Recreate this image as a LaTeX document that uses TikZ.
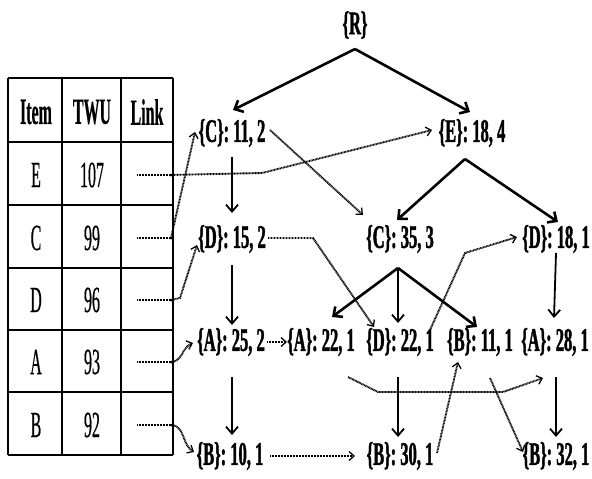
\documentclass[tikz,border=0pt]{standalone}
\usepackage{fontspec}
\setmainfont{Liberation Serif}
\newfontfamily\treefont{Liberation Serif}[FakeStretch=0.5, BoldFeatures={FakeBold=1.2}]
\newfontfamily\tablefont{Liberation Serif}[FakeStretch=0.43, FakeBold=0.4]
\usetikzlibrary{arrows.meta}
\tikzset{
  treenode/.style={inner sep=0pt, font=\treefont\fontsize{33}{33}\selectfont\bfseries},
  cell/.style={inner sep=0pt, font=\tablefont\fontsize{37}{37}\selectfont},
  headcell/.style={cell, font=\tablefont\fontsize{37}{37}\selectfont\bfseries},
  tablerule/.style={line width=2.8pt},
  bigedge/.style={line width=2.6pt, -{Straight Barb[length=7pt,width=13pt,line width=2.6pt]}},
  midedge/.style={line width=1.8pt, -{Straight Barb[length=7pt,width=12pt,line width=1.8pt]}},
  linkline/.style={line width=1.9pt, dash pattern=on 0.9pt off 0.6pt},
  linkedge/.style={linkline, -{Straight Barb[length=5pt,width=9pt,line width=1.3pt]}},
}
\begin{document}
\begin{tikzpicture}[x=1pt,y=-1pt]
\useasboundingbox (0,0) rectangle (592,479);

% header table
\foreach \yy in {78,142,205,268,330,392,455}
  \draw[tablerule] (8,\yy) -- (173,\yy);
\foreach \xx in {8,62,121,173}
  \draw[tablerule] (\xx,78) -- (\xx,455);

\node[headcell] (hItem) at (36,112) {Item};
\node[headcell] (hTWU)  at (92,112) {TWU};
\node[headcell] (hLink) at (147,112) {Link};

\foreach \name/\tw/\yy in {E/107/175, C/99/238, D/96/300, A/93/362, B/92/425}{
  \node[cell] (i\name) at (36,\yy) {\name};
  \node[cell] (t\name) at (92,\yy) {\tw};
  \coordinate (s\name) at (137,\yy);
  \coordinate (l\name) at (171,\yy);
  \draw[linkline] (s\name) -- (l\name);
  \fill (l\name) circle (1.5pt);
}

% tree nodes
\node[treenode] (R)   at (355,25)  {\{R\}};
\node[treenode] (C11) at (232,133) {\{C\}: 11, 2};
\node[treenode] (E18) at (472,133) {\{E\}: 18, 4};
\node[treenode] (D15) at (232,239) {\{D\}: 15, 2};
\node[treenode] (C35) at (400,239) {\{C\}: 35, 3};
\node[treenode] (D18) at (556,239) {\{D\}: 18, 1};
\node[treenode] (A25) at (231,342) {\{A\}: 25, 2};
\node[treenode] (A22) at (321,342) {\{A\}: 22, 1};
\node[treenode] (D22) at (400,342) {\{D\}: 22, 1};
\node[treenode] (B11) at (480,342) {\{B\}: 11, 1};
\node[treenode] (A28) at (555,342) {\{A\}: 28, 1};
\node[treenode] (B10) at (230,456) {\{B\}: 10, 1};
\node[treenode] (B30) at (400,456) {\{B\}: 30, 1};
\node[treenode] (B32) at (556,456) {\{B\}: 32, 1};

% tree edges
\draw[bigedge] ([yshift=-24pt]R.center) -- ([xshift=1pt,yshift=23pt]C11.center);
\draw[bigedge] ([yshift=-24pt]R.center) -- ([xshift=-2pt,yshift=21pt]E18.center);
\draw[midedge] ([yshift=-24pt]C11.center) -- ([yshift=26pt]D15.center);
\draw[midedge] ([yshift=-26pt]D15.center) -- ([xshift=1pt,yshift=17pt]A25.center);
\draw[midedge] ([xshift=1pt,yshift=-35pt]A25.center) -- ([xshift=2pt,yshift=21pt]B10.center);
\draw[bigedge] ([xshift=-7pt,yshift=-26pt]E18.center) -- ([xshift=-3pt,yshift=19pt]C35.center);
\draw[bigedge] ([xshift=-7pt,yshift=-26pt]E18.center) -- ([xshift=2pt,yshift=17pt]D18.center);
\draw[bigedge] ([xshift=-2pt,yshift=-29pt]C35.center) -- ([xshift=11pt,yshift=25pt]A22.center);
\draw[midedge] ([xshift=-2pt,yshift=-29pt]C35.center) -- ([xshift=-2pt,yshift=19pt]D22.center);
\draw[bigedge] ([xshift=-2pt,yshift=-29pt]C35.center) -- ([xshift=-3pt,yshift=15pt]B11.center);
\draw[midedge] ([yshift=-14pt]D18.center) -- ([xshift=-1pt,yshift=24pt]A28.center);
\draw[midedge] ([xshift=-2pt,yshift=-35pt]D22.center) -- ([xshift=-2pt,yshift=19pt]B30.center);
\draw[midedge] ([xshift=1pt,yshift=-35pt]A28.center) -- ([yshift=19pt]B32.center);

% node links
\coordinate (kE) at (262,173);
\coordinate (kD) at (180,298);
\coordinate (kD1) at (313,238);
\coordinate (kA1) at (378,392);
\coordinate (kA2) at (503,392);
\coordinate (kD2) at (465,253);

\draw[linkedge] (lE) -- (kE) -- ([xshift=-40pt,yshift=3pt]E18.center);
\draw[linkedge] (lC) -- ([xshift=-37pt,yshift=1pt]C11.center);
\draw[linkedge] (lD) -- (kD) -- ([xshift=-35pt,yshift=-6pt]D15.center);
\draw[linkedge] (lA) to[out=0,in=200] ([xshift=-38pt,yshift=-1pt]A25.center);
\draw[linkedge] (lB) to[out=0,in=150] ([xshift=-36pt,yshift=4pt]B10.center);
\draw[linkedge] ([xshift=38pt,yshift=3pt]C11.center) -- ([xshift=-37pt,yshift=24pt]C35.center);
\draw[linkedge] ([xshift=36pt,yshift=1pt]D15.center) -- (kD1) -- ([xshift=-26pt,yshift=15pt]D22.center);
\draw[linkedge] ([xshift=36pt]A25.center) -- ([xshift=-34pt]A22.center);
\draw[linkedge] ([xshift=27pt,yshift=-35pt]A22.center) -- (kA1) -- (kA2) -- ([xshift=-12pt,yshift=-36pt]A28.center);
\draw[linkedge] ([xshift=30pt,yshift=12pt]D22.center) -- (kD2) -- ([xshift=-39pt,yshift=2pt]D18.center);
\draw[linkedge] ([xshift=10pt,yshift=-36pt]B11.center) -- ([xshift=-33pt,yshift=4pt]B32.center);
\draw[linkedge] ([xshift=40pt]B10.center) -- ([xshift=-45pt]B30.center);
\draw[linkedge] ([xshift=37pt,yshift=3pt]B30.center) -- ([xshift=-22pt,yshift=-20pt]B11.center);
\end{tikzpicture}
\end{document}
